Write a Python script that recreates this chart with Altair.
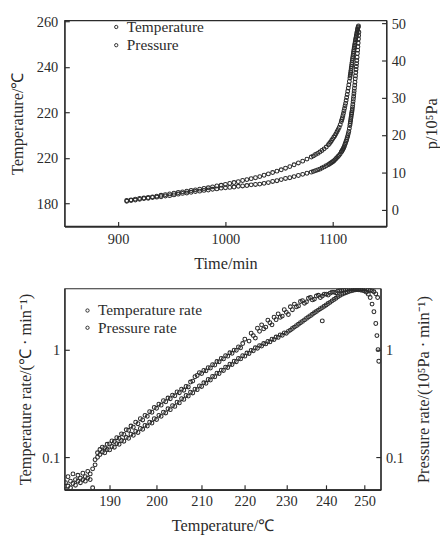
import altair as alt
import pandas as pd

FONT = "Liberation Serif"
INK = "#2b2b2b"

# ---------------- top panel: temperature & pressure vs time ----------------
time_min = [908, 912, 916, 920, 924, 928, 932, 936, 940, 944,
            948, 952, 956, 960, 964, 968, 972, 976, 980, 984,
            988, 992, 996, 1000, 1004, 1008, 1012, 1016, 1020, 1024,
            1028, 1032, 1036, 1040, 1044, 1048, 1052, 1056, 1060, 1064,
            1068, 1072, 1076, 1080,
            1082, 1084, 1086, 1088, 1090, 1092, 1094, 1096,
            1097, 1098, 1099, 1100, 1101, 1102, 1103, 1104, 1105, 1106, 1107,
            1108, 1108.5, 1109, 1109.5, 1110, 1110.5, 1111, 1111.5,
            1112, 1112.5, 1113, 1113.5, 1114, 1114.5, 1115, 1115.5,
            1116, 1116.25, 1116.5, 1116.75, 1117, 1117.25, 1117.5, 1117.75,
            1118, 1118.25, 1118.5, 1118.75, 1119, 1119.25, 1119.5, 1119.75,
            1120, 1120.25, 1120.5, 1120.75, 1121, 1121.25, 1121.5, 1121.75,
            1122, 1122.25, 1122.5, 1122.75, 1123, 1123.25, 1123.5, 1123.75, 1124]

temperature_c = [181.3, 181.6, 181.9, 182.2, 182.4, 182.6, 182.9, 183.2, 183.6, 183.9,
                 184.2, 184.5, 184.8, 185.1, 185.4, 185.7, 186.0, 186.3, 186.6, 186.9,
                 187.3, 187.7, 188.0, 188.4, 188.8, 189.2, 189.6, 190.1, 190.5, 190.9,
                 191.3, 191.8, 192.4, 193.0, 193.6, 194.2, 194.8, 195.5, 196.2, 197.0,
                 197.8, 198.6, 199.5, 200.4,
                 200.9, 201.5, 202.0, 202.6, 203.3, 204.0, 204.8, 205.8,
                 206.4, 207.0, 207.7, 208.4, 209.1, 209.8, 210.6, 211.5, 212.4, 213.4, 214.6,
                 216.0, 216.8, 217.6, 218.6, 219.6, 220.7, 221.8, 222.9,
                 224.0, 225.3, 226.6, 227.9, 229.3, 230.7, 232.1, 233.6,
                 235.1, 236.0, 236.8, 237.7, 238.5, 239.4, 240.2, 241.1,
                 241.9, 242.8, 243.6, 244.4, 245.2, 246.0, 246.8, 247.6,
                 248.3, 249.0, 249.7, 250.4, 251.1, 251.8, 252.4, 253.0,
                 253.6, 254.3, 254.9, 255.5, 256.1, 256.7, 257.2, 257.6, 258.0]

pressure_time_min = time_min + [1124.2, 1124.4]
pressure_1e5pa = [2.3, 2.5, 2.6, 2.8, 3.0, 3.1, 3.3, 3.4, 3.5, 3.7,
                  3.8, 4.0, 4.2, 4.4, 4.5, 4.7, 4.9, 5.0, 5.2, 5.3,
                  5.5, 5.6, 5.8, 5.9, 6.0, 6.1, 6.3, 6.4, 6.5, 6.7,
                  6.8, 6.9, 7.1, 7.3, 7.6, 7.8, 8.1, 8.4, 8.6, 8.9,
                  9.2, 9.5, 9.8, 10.1,
                  10.3, 10.5, 10.7, 10.9, 11.2, 11.5, 11.8, 12.1,
                  12.3, 12.5, 12.7, 12.9, 13.1, 13.4, 13.7, 14.0, 14.3, 14.6, 15.0,
                  15.5, 15.7, 16.0, 16.2, 16.5, 16.8, 17.2, 17.6,
                  18.0, 18.4, 18.8, 19.3, 19.8, 20.4, 21.0, 21.8,
                  22.6, 23.1, 23.6, 24.1, 24.6, 25.1, 25.6, 26.0,
                  26.5, 27.0, 27.6, 28.3, 29.0, 29.7, 30.4, 31.1,
                  31.8, 32.6, 33.4, 34.2, 35.1, 35.9, 36.8, 37.6,
                  38.4, 39.2, 40.0, 40.9, 41.9, 42.8, 43.7, 44.7, 45.8,
                  46.7, 47.6]

time_ticks = [900, 1000, 1100]
temp_ticks = [180, 200, 220, 240, 260]
pressure_ticks = [0, 10, 20, 30, 40, 50]

# ---------------- bottom panel: rates vs temperature (1/T axis) ----------------
tr_temp_c = [181.0, 181.5, 182.0, 182.5, 183.0, 183.5, 184.0, 184.5, 185.0, 185.5,
             186.0, 186.5, 187.0, 187.5,
             188.0, 188.5, 189.0, 189.5, 190.0, 190.5, 191.0, 191.5, 192.0, 192.5,
             193.0, 193.5, 194.0, 194.5, 195.0, 195.5, 196.0, 196.5, 197.0, 197.5,
             198.0, 198.5, 199.0, 199.5, 200.0, 200.5, 201.0, 201.5, 202.0, 202.5,
             203.0, 203.5, 204.0, 204.5, 205.0, 205.5, 206.0, 206.5, 207.0, 207.5,
             208.0, 208.5, 209.0, 209.5, 210.0, 210.5, 211.0, 211.5, 212.0, 212.5,
             213.0, 213.5, 214.0, 214.5, 215.0, 215.5, 216.0, 216.5, 217.0, 217.5,
             218.0, 218.5, 219.0, 219.5, 220.0,
             221.0, 221.5, 222.0, 222.5, 223.0, 223.5, 224.0, 224.5, 225.0, 225.5,
             226.0, 226.5, 227.0, 227.5, 228.0, 228.5, 229.0, 229.5, 230.0, 230.5,
             231.0, 231.5, 232.0, 232.5, 233.0, 233.5, 234.0, 234.5, 235.0, 235.5,
             236.0, 236.5, 237.0, 237.5, 238.0, 238.5, 239.0, 239.5, 240.0, 240.5,
             241.0, 241.5, 242.0, 242.5, 243.0, 243.5, 244.0, 244.5, 245.0, 245.5,
             246.0, 246.5, 247.0, 247.5, 248.0, 248.5, 249.0, 249.5, 250.0, 250.5,
             251.0, 251.5, 252.0, 252.5, 253.0, 253.3, 253.6, 253.8]
tr_rate = [0.058, 0.066, 0.060, 0.070, 0.062, 0.068, 0.064, 0.071, 0.066, 0.074,
           0.070, 0.078, 0.095, 0.110,
           0.118, 0.124, 0.122, 0.132, 0.133, 0.142, 0.140, 0.152, 0.150, 0.165,
           0.163, 0.180, 0.178, 0.195, 0.190, 0.212, 0.205, 0.228, 0.222, 0.245,
           0.240, 0.265, 0.262, 0.290, 0.285, 0.312, 0.305, 0.335, 0.328, 0.355,
           0.350, 0.378, 0.372, 0.405, 0.398, 0.430, 0.420, 0.455, 0.450, 0.500,
           0.510, 0.560, 0.575, 0.610, 0.600, 0.640, 0.635, 0.680, 0.675, 0.725,
           0.720, 0.775, 0.770, 0.830, 0.820, 0.880, 0.870, 0.935, 0.925, 0.990,
           0.985, 1.06, 1.04, 1.14, 1.25,
           1.20, 1.42, 1.35, 1.28, 1.58, 1.48, 1.70, 1.56, 1.62, 1.88,
           1.78, 1.70, 2.00, 1.90, 2.15, 2.00, 2.05, 2.35, 2.22, 2.12,
           2.50, 2.35, 2.65, 2.50, 2.55, 2.80, 2.85, 2.70, 2.78, 3.00,
           3.05, 2.90, 2.95, 3.15, 3.20, 3.05, 3.15, 3.28, 3.28, 3.22,
           3.35, 3.42, 3.42, 3.38, 3.50, 3.54, 3.55, 3.58, 3.60, 3.63,
           3.64, 3.66, 3.66, 3.64, 3.62, 3.60, 3.58, 3.55, 3.50, 3.42,
           3.28, 3.05, 2.65, 2.25, 1.75, 1.35, 1.00, 0.78]

pr_temp_c = [181.0, 181.5, 182.0, 182.5, 183.0, 183.5, 184.0, 184.5, 185.0, 185.5,
             186.0, 186.5, 187.0, 187.5,
             188.0, 188.5, 189.0, 189.5, 190.0, 190.5, 191.0, 191.5, 192.0, 192.5,
             193.0, 193.5, 194.0, 194.5, 195.0, 195.5, 196.0, 196.5, 197.0, 197.5,
             198.0, 198.5, 199.0, 199.5, 200.0, 200.5, 201.0, 201.5, 202.0, 202.5,
             203.0, 203.5, 204.0, 204.5, 205.0, 205.5, 206.0, 206.5, 207.0, 207.5,
             208.0, 208.5, 209.0, 209.5, 210.0, 210.5, 211.0, 211.5, 212.0, 212.5,
             213.0, 213.5, 214.0, 214.5, 215.0, 215.5, 216.0, 216.5, 217.0, 217.5,
             218.0, 218.5, 219.0, 219.5, 220.0, 220.5, 221.0, 221.5, 222.0, 222.5,
             223.0, 223.5, 224.0, 224.5, 225.0, 225.5, 226.0, 226.5, 227.0, 227.5,
             228.0, 228.5, 229.0, 229.5, 230.0,
             230.5, 231.0, 231.5, 232.0, 232.5, 233.0, 233.5, 234.0, 234.5, 235.0,
             235.5, 236.0, 236.5, 237.0, 237.5, 238.0, 238.5, 239.0, 239.5, 240.0,
             240.5, 241.0, 241.5, 242.0, 242.5, 243.0, 243.5, 244.0, 244.5, 245.0,
             245.5, 246.0, 246.5, 247.0, 247.5, 248.0, 248.5, 249.0, 249.5, 250.0,
             250.5, 251.0, 251.5, 252.0, 252.5, 253.0, 253.5,
             239.0]
pr_rate = [0.050, 0.054, 0.052, 0.057, 0.055, 0.060, 0.058, 0.062, 0.060, 0.064,
           0.062, 0.052, 0.085, 0.100,
           0.106, 0.112, 0.110, 0.118, 0.117, 0.126, 0.124, 0.134, 0.132, 0.143,
           0.141, 0.153, 0.150, 0.164, 0.160, 0.174, 0.170, 0.185, 0.182, 0.198,
           0.195, 0.212, 0.208, 0.228, 0.224, 0.245, 0.240, 0.262, 0.258, 0.282,
           0.277, 0.302, 0.297, 0.325, 0.320, 0.350, 0.345, 0.375, 0.370, 0.402,
           0.396, 0.430, 0.425, 0.460, 0.455, 0.492, 0.487, 0.528, 0.522, 0.565,
           0.560, 0.605, 0.600, 0.645, 0.640, 0.688, 0.682, 0.732, 0.726, 0.780,
           0.772, 0.828, 0.820, 0.878, 0.870, 0.930, 0.922, 0.985, 0.975, 1.04,
           1.03, 1.09, 1.08, 1.14, 1.13, 1.19, 1.18, 1.25, 1.24, 1.31,
           1.30, 1.37, 1.36, 1.43, 1.42,
           1.48, 1.52, 1.57, 1.62, 1.67, 1.72, 1.78, 1.83, 1.89, 1.95,
           2.01, 2.07, 2.13, 2.20, 2.26, 2.33, 2.40, 2.46, 2.53, 2.60,
           2.68, 2.75, 2.84, 2.92, 3.00, 3.10, 3.18, 3.26, 3.32, 3.38,
           3.43, 3.48, 3.52, 3.56, 3.59, 3.62, 3.64, 3.66, 3.66, 3.65,
           3.63, 3.60, 3.56, 3.52, 3.45, 3.30, 3.05,
           1.85]

temp_axis_ticks_c = [190, 200, 210, 220, 230, 240, 250]
rate_ticks = [0.1, 1]
bottom_temp_range_c = [180.8, 254.3]


def inv_t(c):
    return -1000.0 / (c + 273.15)


INWARD = {"expr": "-5"}
LBL = 15
TTL = 17

df_temp = pd.DataFrame({"time": time_min, "value": temperature_c, "series": "Temperature"})
df_pres = pd.DataFrame({"time": pressure_time_min, "value": pressure_1e5pa, "series": "Pressure"})
df_tr = pd.DataFrame({"temp": tr_temp_c, "rate": tr_rate, "series2": "Temperature rate"})
df_pr = pd.DataFrame({"temp": pr_temp_c, "rate": pr_rate, "series2": "Pressure rate"})

pt = dict(shape="circle", filled=False, size=16, strokeWidth=1.1, clip=True, opacity=1)


def legend(x, y, row_pad):
    return alt.Legend(title=None, orient="none", legendX=x, legendY=y, symbolType="circle",
                      symbolSize=12, symbolStrokeWidth=1, labelFont=FONT, labelFontSize=16,
                      labelColor=INK, rowPadding=row_pad, labelOffset=3)


top_color = alt.Color("series:N",
                      scale=alt.Scale(domain=["Temperature", "Pressure"], range=[INK, INK]),
                      legend=legend(46, -1, 3))
x_top = alt.X("time:Q", scale=alt.Scale(domain=[850, 1150], nice=False, zero=False),
              axis=alt.Axis(values=time_ticks, format="d", title="Time/min", tickSize=INWARD,
                            labelPadding=11, titlePadding=10, domainWidth=2))
y_temp = alt.Y("value:Q", scale=alt.Scale(domain=[170, 260.5], nice=False, zero=False),
               axis=alt.Axis(orient="left", values=temp_ticks, title="Temperature/℃",
                             labelExpr="datum.value == 200 ? '220' : datum.label",
                             tickSize=INWARD, labelPadding=12, titlePadding=10))
y_pres = alt.Y("value:Q", scale=alt.Scale(domain=[-4.4, 50.8], nice=False, zero=False),
               axis=alt.Axis(orient="right", values=pressure_ticks, title="p/10⁵Pa",
                             titleAngle=270, titleBaseline="top", titlePadding=19,
                             tickSize=INWARD, labelPadding=10))

top = alt.layer(
    alt.Chart(df_temp).mark_point(**pt).encode(x=x_top, y=y_temp, color=top_color),
    alt.Chart(df_pres).mark_point(**pt).encode(x=x_top, y=y_pres, color=top_color),
).resolve_scale(y="independent").properties(width=336, height=215)

bot_color = alt.Color("series2:N",
                      scale=alt.Scale(domain=["Temperature rate", "Pressure rate"], range=[INK, INK]),
                      legend=legend(16, 15, 2))
x_bot = alt.X("inv_t:Q",
              scale=alt.Scale(domain=[inv_t(bottom_temp_range_c[0]), inv_t(bottom_temp_range_c[1])],
                              nice=False, zero=False),
              axis=alt.Axis(values=[inv_t(c) for c in temp_axis_ticks_c],
                            labelExpr="format(-1000/datum.value - 273.15, '.0f')",
                            title="Temperature/℃", tickSize=INWARD, labelPadding=10,
                            titlePadding=10, domainWidth=2))
rate_scale = alt.Scale(type="log", domain=[0.05, 3.7], nice=False)
y_tr = alt.Y("rate:Q", scale=rate_scale,
             axis=alt.Axis(orient="left", values=rate_ticks, format="~g",
                           title="Temperature rate/(℃ · min⁻¹)", tickSize=INWARD,
                           labelPadding=10, titlePadding=8))
y_pr = alt.Y("rate:Q", scale=rate_scale,
             axis=alt.Axis(orient="right", values=rate_ticks, format="~g",
                           title="Pressure rate/(10⁵Pa · min⁻¹)", titleAngle=270,
                           titleBaseline="top", titlePadding=13, tickSize=INWARD, labelPadding=10))

bottom = alt.layer(
    alt.Chart(df_tr).transform_calculate(inv_t="-1000/(datum.temp + 273.15)")
    .mark_point(**pt).encode(x=x_bot, y=y_tr, color=bot_color),
    alt.Chart(df_pr).transform_calculate(inv_t="-1000/(datum.temp + 273.15)")
    .mark_point(**pt).encode(x=x_bot, y=y_pr, color=bot_color),
).resolve_scale(y="independent").properties(width=330, height=210)

chart = (
    alt.vconcat(top, bottom, spacing=16)
    .resolve_scale(color="independent")
    .resolve_legend(color="independent")
    .properties(padding={"left": 0, "top": -6, "right": 0, "bottom": 0}, background="white")
    .configure_view(stroke=INK, strokeWidth=1.2)
    .configure_axis(labelFont=FONT, titleFont=FONT, labelFontSize=LBL, titleFontSize=TTL,
                    titleFontWeight="normal", labelColor=INK, titleColor=INK,
                    domainColor=INK, tickColor=INK, domainWidth=1.3, tickWidth=1.2, grid=False)
)

chart.save("out.html", embed_options={"renderer": "svg", "actions": False})
